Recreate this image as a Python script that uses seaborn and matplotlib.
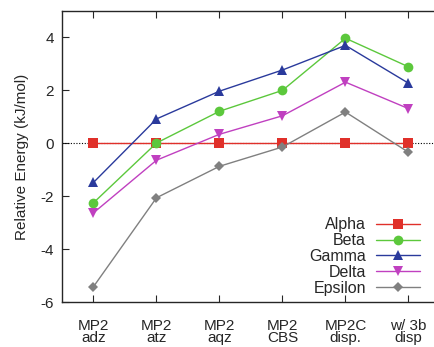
import matplotlib
matplotlib.use("Agg")
import matplotlib.pyplot as plt
import seaborn as sns
import pandas as pd

categories = ["MP2\nadz", "MP2\natz", "MP2\naqz", "MP2\nCBS", "MP2C\ndisp.", "w/ 3b\ndisp"]
alpha = [0, 0, 0, 0, 0, 0]
beta = [-2.25, 0.01, 1.21, 2.0, 3.97, 2.89]
gamma = [-1.48, 0.92, 1.97, 2.77, 3.70, 2.27]
delta = [-2.63, -0.64, 0.34, 1.04, 2.31, 1.31]
epsilon = [-5.42, -2.06, -0.87, -0.14, 1.18, -0.34]
names = ["Alpha", "Beta", "Gamma", "Delta", "Epsilon"]
series = [alpha, beta, gamma, delta, epsilon]

rows = []
for n, s in zip(names, series):
    for i, v in enumerate(s):
        rows.append({"x": i, "y": v, "series": n})
df = pd.DataFrame(rows)

sns.set_style("ticks")
plt.rcParams["font.family"] = ["Liberation Sans", "DejaVu Sans"]

palette = {"Alpha": "#e0302a", "Beta": "#5cc83c", "Gamma": "#2a3a9c",
           "Delta": "#c040c0", "Epsilon": "#808080"}
markers = {"Alpha": "s", "Beta": "o", "Gamma": "^", "Delta": "v", "Epsilon": "D"}
sizes = {"Alpha": 7, "Beta": 7, "Gamma": 6.5, "Delta": 6.5, "Epsilon": 5}

fig = plt.figure(figsize=(4.35, 3.47), dpi=100)
ax = fig.add_axes([62/435, 45/347, 378/435, 291/347])

ax.axhline(0, color="black", lw=0.8, ls=(0, (1, 1.5)), zorder=1)

for n in names:
    sub = df[df["series"] == n]
    sns.lineplot(data=sub, x="x", y="y", ax=ax, color=palette[n], marker=markers[n],
                 markersize=sizes[n], markeredgewidth=0, linewidth=1.0, label=n,
                 sort=False, zorder=3)

ax.set_xlim(-0.5, 5.5)
ax.set_ylim(-6, 5)
ax.set_xticks(range(len(categories)))
ax.set_xticklabels(categories, fontsize=11, linespacing=0.85)
ax.set_yticks([-6, -4, -2, 0, 2, 4])
ax.set_yticklabels(["-6", "-4", "-2", "0", "2", "4"], fontsize=11)
ax.tick_params(axis="both", direction="in", length=5, width=0.8, top=True, pad=6)
ax.tick_params(axis="x", pad=12)
for s in ax.spines.values():
    s.set_linewidth(1.0)
ax.set_xlabel("")
ax.set_ylabel("Relative Energy (kJ/mol)", fontsize=11, labelpad=8)

leg = ax.legend(loc="lower right", bbox_to_anchor=(0.965, 0.0), frameon=False,
                markerfirst=False, fontsize=11.5, handlelength=2.8, handletextpad=0.6,
                labelspacing=0.05, borderaxespad=0.0)
for t in leg.get_texts():
    t.set_ha("right")

fig.savefig("out.png", dpi=100)
